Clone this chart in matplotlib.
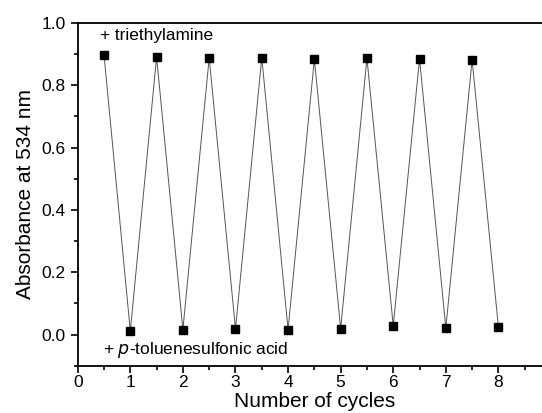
import matplotlib
matplotlib.use("Agg")
import matplotlib.pyplot as plt
from matplotlib.ticker import MultipleLocator

plt.rcParams['font.family'] = ['Liberation Sans', 'DejaVu Sans']

# absorbance after each addition (high = base, low = acid)
x_high = [0.5, 1.5, 2.5, 3.5, 4.5, 5.5, 6.5, 7.5]
y_high = [0.898, 0.891, 0.888, 0.889, 0.884, 0.887, 0.885, 0.882]
x_low = [1, 2, 3, 4, 5, 6, 7, 8]
y_low = [0.011, 0.016, 0.018, 0.016, 0.019, 0.028, 0.021, 0.024]

xs = []
ys = []
for a, b, c, d in zip(x_high, y_high, x_low, y_low):
    xs += [a, c]
    ys += [b, d]

fig = plt.figure(figsize=(5.42, 4.13), dpi=100)
ax = fig.add_axes([0.1434, 0.1145, 0.8732, 0.8298])

ax.plot(xs, ys, color='#555555', lw=0.7, zorder=1)
ax.plot(xs, ys, ls='none', marker='s', ms=5.5, color='black', zorder=2)

ax.set_xlim(0, 9)
ax.set_ylim(-0.1, 1.0)
ax.xaxis.set_major_locator(MultipleLocator(1))
ax.xaxis.set_minor_locator(MultipleLocator(0.5))
ax.yaxis.set_major_locator(MultipleLocator(0.2))
ax.yaxis.set_minor_locator(MultipleLocator(0.1))
ax.set_xticks(range(0, 9))
ax.yaxis.set_major_formatter(plt.FormatStrFormatter('%.1f'))
ax.tick_params(which='both', direction='out', width=1.2, labelsize=12.5)
ax.tick_params(which='major', length=5)
ax.tick_params(which='minor', length=3)
ax.tick_params(axis='x', top=False, pad=2)
for s in ax.spines.values():
    s.set_linewidth(1.3)

ax.set_xlabel('Number of cycles', fontsize=15, labelpad=1)
ax.set_ylabel('Absorbance at 534 nm', fontsize=15, labelpad=5)

ax.text(0.42, 0.96, '+ triethylamine', fontsize=12.4, va='center')
ax.text(0.48, -0.048, r'+ $\it{p}$-toluenesulfonic acid', fontsize=12.5, va='center')

fig.savefig('out.png', dpi=100)
